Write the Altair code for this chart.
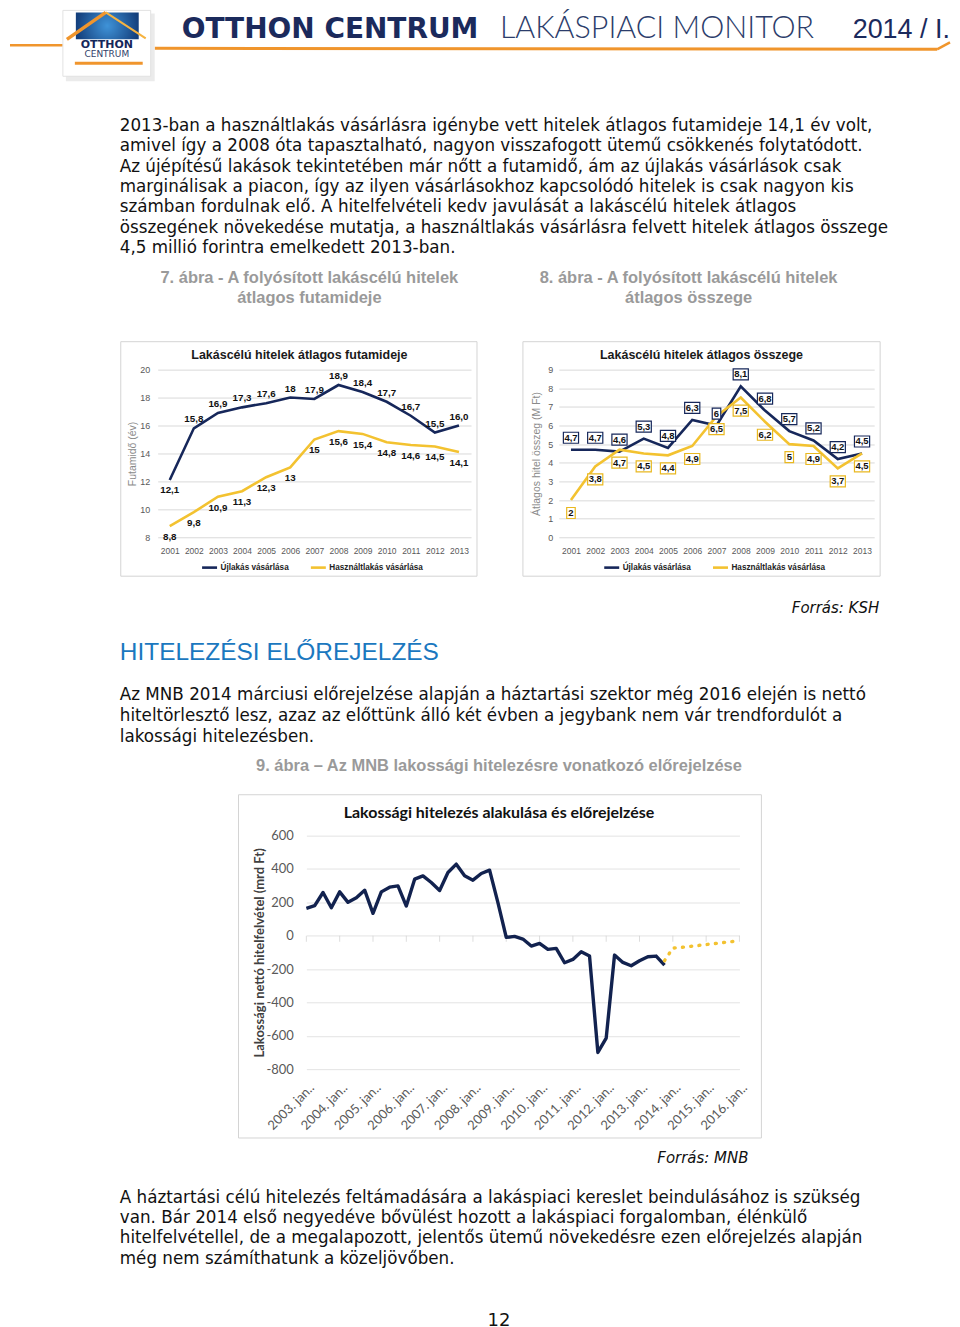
import altair as alt
import pandas as pd

# ---------------- data ----------------
years = [2001, 2002, 2003, 2004, 2005, 2006, 2007, 2008, 2009, 2010, 2011, 2012, 2013]
UJ = "Újlakás vásárlása"
HASZ = "Használtlakás vásárlása"

futam_uj = [12.1, 15.8, 16.9, 17.3, 17.6, 18.0, 17.9, 18.9, 18.4, 17.7, 16.7, 15.5, 16.0]
futam_uj_lbl = ["12,1", "15,8", "16,9", "17,3", "17,6", "18", "17,9", "18,9", "18,4", "17,7", "16,7", "15,5", "16,0"]
futam_hasz = [8.8, 9.8, 10.9, 11.3, 12.3, 13.0, 15.0, 15.6, 15.4, 14.8, 14.6, 14.5, 14.1]
futam_hasz_lbl = ["8,8", "9,8", "10,9", "11,3", "12,3", "13", "15", "15,6", "15,4", "14,8", "14,6", "14,5", "14,1"]

osszeg_uj = [4.7, 4.7, 4.6, 5.3, 4.8, 6.3, 6.0, 8.1, 6.8, 5.7, 5.2, 4.2, 4.5]
osszeg_uj_lbl = ["4,7", "4,7", "4,6", "5,3", "4,8", "6,3", "6", "8,1", "6,8", "5,7", "5,2", "4,2", "4,5"]
osszeg_hasz = [2.0, 3.8, 4.7, 4.5, 4.4, 4.9, 6.5, 7.5, 6.2, 5.0, 4.9, 3.7, 4.5]
osszeg_hasz_lbl = ["2", "3,8", "4,7", "4,5", "4,4", "4,9", "6,5", "7,5", "6,2", "5", "4,9", "3,7", "4,5"]

# quarterly net household borrowing (mrd Ft), 2003 Q1 .. 2013 Q4
q_years = list(range(2003, 2014))
q_quarters = [0.0, 0.25, 0.5, 0.75]
netto = [164, 180, 259, 168,
         263, 200, 227, 273,
         134, 263, 291, 299,
         178, 339, 359, 319,
         271, 379, 429, 359,
         333, 373, 393, 198,
         -10, -4, -20, -62,
         -46, -82, -76, -162,
         -142, -96, -122, -700,
         -614, -116, -160, -180,
         -150, -126, -122, -176]
fc_t = [2013.75, 2014.0, 2014.25, 2014.5, 2014.75, 2015.0, 2015.25, 2015.5, 2015.75, 2016.0]
fc_val = [-150, -74, -70, -65, -59, -53, -47, -41, -36, -30]
axis3_years = list(range(2003, 2017))

header_parts = ["OTTHON CENTRUM", "LAKÁSPIACI MONITOR", "2014 / I."]
para1 = [
    "2013-ban a használtlakás vásárlásra igénybe vett hitelek átlagos futamideje 14,1 év volt,",
    "amivel így a 2008 óta tapasztalható, nagyon visszafogott ütemű csökkenés folytatódott.",
    "Az újépítésű lakások tekintetében már nőtt a futamidő, ám az újlakás vásárlások csak",
    "marginálisak a piacon, így az ilyen vásárlásokhoz kapcsolódó hitelek is csak nagyon kis",
    "számban fordulnak elő. A hitelfelvételi kedv javulását a lakáscélú hitelek átlagos",
    "összegének növekedése mutatja, a használtlakás vásárlásra felvett hitelek átlagos összege",
    "4,5 millió forintra emelkedett 2013-ban.",
]
cap7 = ["7. ábra - A folyósított lakáscélú hitelek", "átlagos futamideje"]
cap8 = ["8. ábra - A folyósított lakáscélú hitelek", "átlagos összege"]
src1 = "Forrás: KSH"
heading = "HITELEZÉSI ELŐREJELZÉS"
para2 = [
    "Az MNB 2014 márciusi előrejelzése alapján a háztartási szektor még 2016 elején is nettó",
    "hiteltörlesztő lesz, azaz az előttünk álló két évben a jegybank nem vár trendfordulót a",
    "lakossági hitelezésben.",
]
cap9 = "9. ábra – Az MNB lakossági hitelezésre vonatkozó előrejelzése"
src2 = "Forrás: MNB"
para3 = [
    "A háztartási célú hitelezés feltámadására a lakáspiaci kereslet beindulásához is szükség",
    "van. Bár 2014 első negyedéve bővülést hozott a lakáspiaci forgalomban, élénkülő",
    "hitelfelvétellel, de a megalapozott, jelentős ütemű növekedésre ezen előrejelzés alapján",
    "még nem számíthatunk a közeljövőben.",
]
page_no = "12"

# ---------------- style ----------------
NAVY = "#16275a"
GOLD = "#f3c230"
ORANGE = "#f0952c"
TXT = "#111111"
GREY_CAP = "#9a9a9a"
BODY = "DejaVu Sans"
NARROW = "Liberation Sans Narrow, Liberation Sans, sans-serif"
LATO = "Lato, sans-serif"
AXC = "#595959"
GRID = "#d9d9d9"

ONE = pd.DataFrame({"k": [0]})


def T(lines, x, y, size, font=BODY, color=TXT, weight="normal", align="left",
      style="normal", lh=None, baseline="alphabetic"):
    kw = dict(font=font, fontSize=size, fontWeight=weight, color=color, align=align,
              baseline=baseline, fontStyle=style)
    if lh:
        kw["lineHeight"] = lh
    return alt.Chart(ONE).mark_text(**kw).encode(
        x=alt.value(x), y=alt.value(y), text=alt.value(lines))


def R(x, x2, y, y2, **kw):
    return alt.Chart(ONE).mark_rect(**kw).encode(
        x=alt.value(x), x2=alt.value(x2), y=alt.value(y), y2=alt.value(y2))


def L(x, x2, y, y2, **kw):
    return alt.Chart(ONE).mark_rule(**kw).encode(
        x=alt.value(x), x2=alt.value(x2), y=alt.value(y), y2=alt.value(y2))


def spacer(w):
    return alt.Chart(ONE).mark_point(opacity=0, size=1).encode(
        x=alt.value(10), y=alt.value(0.5)).properties(width=w, height=1)


# ---------------- panel A: header + paragraph + captions ----------------
panelA = alt.layer(
    L(1, 54, 36, 36, color=ORANGE, strokeWidth=2.5),
    L(146, 930, 39, 40, color=ORANGE, strokeWidth=3),
    L(930, 943, 40, 33, color=ORANGE, strokeWidth=2.5),
    R(57, 146, 4, 72, fill="#ebebeb"),
    R(54, 142, 1, 67, fill="white", stroke="#e2e2e2", strokeWidth=1),
    R(67, 130, 3, 30, fill={"gradient": "radial",
                            "stops": [{"offset": 0, "color": "#3f93d8"},
                                      {"offset": 1, "color": "#143f7c"}]}),
    L(97, 58, 3, 30, color=ORANGE, strokeWidth=3.5),
    L(97, 137, 3, 29, color="#f6b340", strokeWidth=2),
    T("OTTHON", 98, 39, 11, weight="bold", color=NAVY, align="center"),
    T("CENTRUM", 98, 48, 9, color="#33426a", align="center"),
    L(66, 134, 54, 54, color=ORANGE, strokeWidth=3),
    T(header_parts[0], 173, 29, 28, weight="bold", color="#1b2a5c"),
    T(header_parts[1], 492, 29, 30.5, font=LATO, weight=300, color="#2c3d6b"),
    T(header_parts[2], 943, 29, 27, font="Liberation Sans", color="#1b2a5c", align="right"),
    T(para1, 111, 122, 16.8, lh=20.35),
    T(cap7, 301, 274, 16.5, font=NARROW, weight="bold", color=GREY_CAP, align="center", lh=20),
    T(cap8, 681, 274, 16.5, font=NARROW, weight="bold", color=GREY_CAP, align="center", lh=20),
).properties(width=944, height=332)


# ---------------- charts 1 & 2 ----------------
def long_df(v_uj, l_uj, v_h, l_h):
    return pd.DataFrame({
        "year": years * 2,
        "series": [UJ] * len(years) + [HASZ] * len(years),
        "s": ["u"] * len(years) + ["h"] * len(years),
        "value": v_uj + v_h,
        "label": l_uj + l_h,
    })


def small_chart(df, title, ytitle, ydom, yvals, w, h, frame, title_x,
                ytitle_x, ylabpad, legx, boxed):
    xenc = alt.X("year:O", scale=alt.Scale(type="point", padding=0.5),
                 axis=alt.Axis(title=None, labelAngle=0, labelFont=NARROW, labelFontSize=8.5,
                               labelColor=AXC, labelPadding=13, labelBaseline="middle",
                               ticks=False, domain=False, grid=False))
    yenc = alt.Y("value:Q", scale=alt.Scale(domain=ydom, nice=False, zero=False),
                 axis=alt.Axis(values=yvals, title=ytitle, grid=True, gridColor=GRID,
                               domain=False, ticks=False, labelFont=NARROW, labelFontSize=9,
                               labelColor=AXC, labelPadding=ylabpad, titleFont=NARROW,
                               titleFontSize=10.5, titleFontWeight="normal", titleColor="#8a8a8a",
                               titleAngle=270, titleX=ytitle_x, titleY=h / 2,
                               titleAlign="center", titleBaseline="middle"))
    base = alt.Chart(df).encode(x=xenc, y=yenc)
    lines = base.mark_line(strokeWidth=2.6).encode(
        color=alt.Color("series:N", scale=alt.Scale(domain=[UJ, HASZ], range=[NAVY, GOLD]),
                        legend=alt.Legend(orient="none", legendX=legx, legendY=h + 21,
                                          direction="horizontal", title=None,
                                          symbolType="stroke", symbolSize=225,
                                          symbolStrokeWidth=2.6, labelFont=NARROW,
                                          labelFontSize=8.2, labelFontWeight="bold",
                                          labelColor="#222222", labelOffset=2,
                                          columnPadding=16)))
    layers = [
        R(frame[0], frame[1], frame[2], frame[3], fill="transparent", stroke="#d4d4d4",
          strokeWidth=1),
        lines,
    ]
    lab = dict(font=NARROW, fontSize=9.8, fontWeight="bold", color=TXT)
    if not boxed:
        layers += [
            base.mark_text(dy=-9, **lab).encode(text="label:N").transform_filter(
                "datum.s == 'u' && datum.year != 2001"),
            base.mark_text(dy=10, **lab).encode(text="label:N").transform_filter(
                "datum.s == 'u' && datum.year == 2001"),
            base.mark_text(dy=11, **lab).encode(text="label:N").transform_filter(
                "datum.s == 'h'"),
        ]
    else:
        wide = "M-0.8,-0.58H0.8V0.58H-0.8Z"
        narrow = "M-0.45,-0.58H0.45V0.58H-0.45Z"
        for s, col, off in (("u", NAVY, -12), ("h", "#e9b820", 13)):
            for shp, cond in ((wide, "length(datum.label) > 1"), (narrow, "length(datum.label) == 1")):
                layers.append(
                    base.mark_point(shape=shp, size=361, filled=True, fill="white", stroke=col,
                                    strokeWidth=1.2, opacity=1, fillOpacity=1, yOffset=off)
                    .transform_filter(f"datum.s == '{s}' && {cond}"))
            layers.append(
                base.mark_text(dy=off, font=NARROW, fontSize=9.5, fontWeight="bold", color=TXT)
                .encode(text="label:N").transform_filter(f"datum.s == '{s}'"))
    layers.append(T(title, title_x, -15, 12.5, font=NARROW, weight="bold", color="#1a1a1a",
                    align="center", baseline="middle"))
    return alt.layer(*layers).properties(width=w, height=h)


c1 = small_chart(long_df(futam_uj, futam_uj_lbl, futam_hasz, futam_hasz_lbl),
                 "Lakáscélú hitelek átlagos futamideje", "Futamidő (év)", [8, 20],
                 [8, 10, 12, 14, 16, 18, 20], 314, 168,
                 frame=(-37, 320, -28, 207),
                 title_x=142, ytitle_x=-25, ylabpad=8, legx=43, boxed=False)
c2 = small_chart(long_df(osszeg_uj, osszeg_uj_lbl, osszeg_hasz, osszeg_hasz_lbl),
                 "Lakáscélú hitelek átlagos összege", "Átlagos hitel összeg (M Ft)", [0, 9],
                 list(range(0, 10)), 316, 168,
                 frame=(-36, 322, -28, 207),
                 title_x=143, ytitle_x=-22, ylabpad=6, legx=44, boxed=True)
row = alt.hconcat(spacer(66.5), c1, c2, spacing=44).resolve_scale(color="independent")

# ---------------- panel C ----------------
panelC = alt.layer(
    T(src1, 872, 35.5, 15, style="italic", align="right"),
    T(heading, 111, 83, 24.5, font=NARROW, color="#1b78bf"),
    T(para2, 111, 123, 16.8, lh=21),
    T(cap9, 491, 194, 16.5, font=NARROW, weight="bold", color=GREY_CAP, align="center"),
).properties(width=944, height=216.5)

# ---------------- chart 3 ----------------
df_q = pd.DataFrame({"t": [y + q for y in q_years for q in q_quarters], "v": netto})
df_fc = pd.DataFrame({"t": fc_t, "v": fc_val})
df_ax = pd.DataFrame({"t": axis3_years, "v": [0] * len(axis3_years)})

x3 = alt.X("t:Q", scale=alt.Scale(domain=[2003, 2016], nice=False, zero=False),
           axis=alt.Axis(values=axis3_years, labelExpr="datum.value + '. jan..'", labelAngle=315,
                         labelAlign="right", labelBaseline="top", labelOffset=1, labelPadding=12,
                         labelOverlap=False, labelFlush=False, labelBound=False, ticks=False,
                         domain=False, grid=False, labelFont=LATO, labelFontSize=13,
                         labelColor=AXC, title=None))
y3 = alt.Y("v:Q", scale=alt.Scale(domain=[-800, 600], nice=False, zero=False),
           axis=alt.Axis(values=list(range(-800, 601, 200)), grid=True, gridColor="#e3e3e3",
                         labelExpr="datum.value < 0 ? '-' + abs(datum.value) : '' + datum.value",
                         domain=False, ticks=False, labelFont=LATO, labelFontSize=13,
                         labelColor=AXC, labelPadding=13,
                         title="Lakossági nettó hitelfelvétel (mrd Ft)", titleFont=LATO,
                         titleFontSize=13, titleFontWeight="bold", titleColor="#404040",
                         titleAngle=270, titleX=-47, titleY=117, titleAlign="center",
                         titleBaseline="middle"))

chart3 = alt.layer(
    R(-68, 456, -41, 303, fill="transparent", stroke="#d4d4d4", strokeWidth=1),
    alt.Chart(df_ax).mark_tick(orient="vertical", size=6, yOffset=3, color="#cfcfcf",
                               thickness=1).encode(x=x3, y=y3),
    alt.Chart(df_q).mark_line(color="#12224f", strokeWidth=3.4, strokeJoin="round").encode(x=x3, y=y3),
    alt.Chart(df_fc).mark_line(color=GOLD, strokeWidth=3.4, strokeDash=[1, 7.3],
                               strokeCap="round").encode(x=x3, y=y3),
    T("Lakossági hitelezés alakulása és előrejelzése", 193, -23, 16, font=LATO,
      weight="bold", color="#111111", align="center", baseline="middle"),
).properties(width=434, height=234)
row3 = alt.hconcat(spacer(228.5), chart3, spacing=0)

# ---------------- panel E ----------------
panelE = alt.layer(
    T(src2, 741, 24.5, 15, style="italic", align="right"),
    T(para3, 111, 64, 16.8, lh=20.35),
    T(page_no, 491, 187, 18, align="center"),
).properties(width=944, height=190)

chart = alt.vconcat(panelA, row, panelC, row3, panelE, spacing=0).resolve_scale(
    color="independent"
).properties(padding=0, background="white").configure_view(stroke=None)

chart.save("out.html", embed_options={"renderer": "svg", "actions": False})
